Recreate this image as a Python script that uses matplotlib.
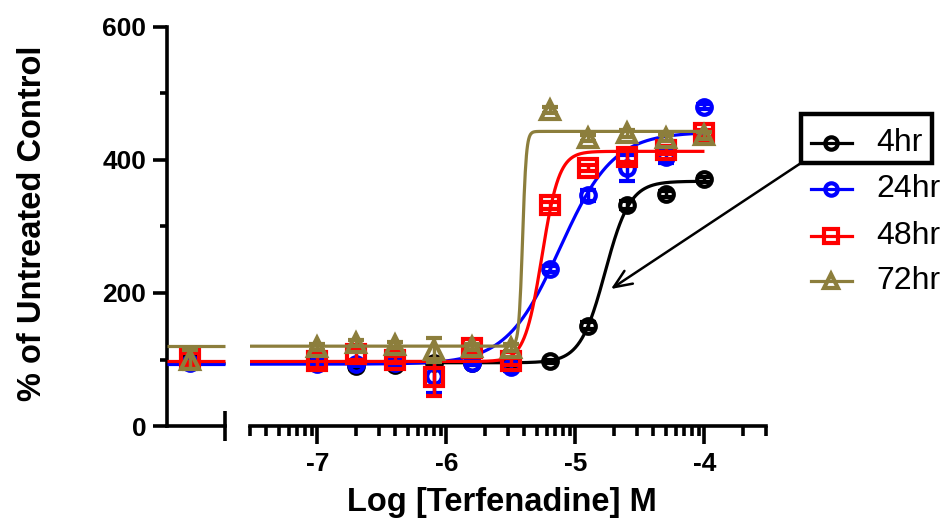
import numpy as np
import matplotlib
matplotlib.use("Agg")
import matplotlib.pyplot as plt
from matplotlib.lines import Line2D
from matplotlib.patches import Rectangle

plt.rcParams["font.family"] = ["Liberation Sans", "DejaVu Sans"]

# ---- data ---------------------------------------------------------------
log_conc = [-7.0, -6.7, -6.4, -6.1, -5.8, -5.5, -5.2, -4.9, -4.6, -4.3, -4.0]
labels = ["4hr", "24hr", "48hr", "72hr"]

hr4 = [95, 90, 92, 95, 95, 93, 97, 151, 332, 349, 371]
hr4_err = [3, 5, 3, 3, 3, 3, 3, 5, 6, 5, 4]
hr24 = [93, 93, 95, 75, 95, 88, 236, 347, 388, 405, 480]
hr24_err = [3, 3, 3, 25, 3, 5, 5, 8, 20, 10, 4]
hr48 = [97, 108, 100, 73, 117, 97, 332, 388, 405, 415, 440]
hr48_err = [10, 8, 6, 28, 5, 5, 5, 5, 8, 6, 5]
hr72 = [119, 125, 122, 114, 119, 118, 475, 433, 440, 433, 437]
hr72_err = [5, 5, 5, 18, 5, 5, 5, 5, 5, 5, 5]

# untreated control (plotted on the separate left segment)
ctrl = [100, 95, 102, 100]
ctrl_err = [2, 2, 8, 14]

# four-parameter logistic fits: bottom, top, logEC50, Hill slope
fit_bottom = [95, 93, 97, 120]
fit_top = [368, 442, 413, 443]
fit_logec50 = [-4.77, -5.12, -5.26, -5.41]
fit_hill = [4.5, 2.1, 6.5, 30.0]

colors = ["#000000", "#0000ff", "#ff0000", "#8c7e3c"]
markers = ["o", "o", "s", "^"]
msizes = [10.5, 10.5, 12.5, 12.5]

means = [hr4, hr24, hr48, hr72]
errs = [hr4_err, hr24_err, hr48_err, hr72_err]

XMIN, XMAX = np.log10(3e-8), np.log10(3e-4)


def logistic(x, b, t, ec, h):
    return b + (t - b) / (1.0 + 10 ** ((ec - x) * h))


# ---- layout ---------------------------------------------------------------
W, H = 948, 520
fig = plt.figure(figsize=(W / 100, H / 100), dpi=100)
y0, y1 = 426, 27
ax1 = fig.add_axes([167 / W, (H - y0) / H, 58 / W, (y0 - y1) / H])
ax2 = fig.add_axes([250 / W, (H - y0) / H, 516 / W, (y0 - y1) / H], sharey=ax1)

spine_w = 2.6
for ax in (ax1, ax2):
    for s in ax.spines.values():
        s.set_linewidth(spine_w)
    ax.spines["top"].set_visible(False)
    ax.spines["right"].set_visible(False)
    ax.set_facecolor("none")

ax2.spines["left"].set_visible(False)

ax1.set_ylim(0, 600)
ax1.set_xlim(0, 1)
ax2.set_xlim(XMIN, XMAX)

# y axis ticks
ax1.set_yticks([0, 200, 400, 600])
ax1.set_yticks([100, 300, 500], minor=True)
ax1.tick_params(axis="y", which="major", length=10, width=spine_w, pad=5,
                labelsize=19)
ax1.tick_params(axis="y", which="minor", length=5, width=spine_w)
for lab in ax1.get_yticklabels():
    lab.set_fontweight("bold")

# left segment bottom axis: single end tick
ax1.set_xticks([1.0])
ax1.set_xticklabels([])
ax1.tick_params(axis="x", which="major", direction="inout", length=22,
                width=spine_w)

# main x axis with log minor ticks
ax2.tick_params(axis="y", which="both", left=False, right=False,
                labelleft=False)
ax2.set_xticks([-7, -6, -5, -4])
ax2.set_xticklabels(["-7", "-6", "-5", "-4"])
minor = [d + np.log10(k) for d in range(-8, -3) for k in range(2, 10)]
minor = [m for m in minor if XMIN - 1e-6 <= m <= XMAX + 1e-6]
ax2.set_xticks(minor, minor=True)
ax2.tick_params(axis="x", which="major", length=13, width=spine_w, pad=6,
                labelsize=19)
ax2.tick_params(axis="x", which="minor", length=7, width=spine_w)
for lab in ax2.get_xticklabels():
    lab.set_fontweight("bold")

# ---- curves and points ----------------------------------------------------
xs = np.linspace(XMIN, -4.0, 800)
for i in range(4):
    c = colors[i]
    ys = logistic(xs, fit_bottom[i], fit_top[i], fit_logec50[i], fit_hill[i])
    z = 2 + i
    ax2.plot(xs, ys, color=c, lw=2.3, zorder=z, solid_capstyle="butt")
    ax2.errorbar(log_conc, means[i], yerr=errs[i], fmt=markers[i], color=c,
                 ms=msizes[i], mfc="none", mec=c, mew=3.0, ecolor=c,
                 elinewidth=2.5, capsize=6, capthick=2.5, zorder=z)
    # baseline continued over the control segment
    ax1.plot([0, 1], [fit_bottom[i]] * 2, color=c, lw=2.3, zorder=z,
             solid_capstyle="butt", clip_on=False)
    ax1.errorbar([0.4], [ctrl[i]], yerr=[ctrl_err[i]], fmt=markers[i],
                 color=c, ms=msizes[i], mfc="none", mec=c, mew=3.0,
                 ecolor=c, elinewidth=2.5, capsize=6, capthick=2.5, zorder=z)

# ---- labels ---------------------------------------------------------------
fig.text(33 / W, (H - 223) / H, "% of Untreated Control", rotation=90,
         ha="center", va="center", fontsize=23.5, fontweight="bold")
fig.text(502 / W, (H - 503) / H, "Log [Terfenadine] M", ha="center",
         va="center", fontsize=23.5, fontweight="bold")

# ---- legend ---------------------------------------------------------------
rows_y = [143, 189, 236, 281]
for i in range(4):
    yy = (H - rows_y[i]) / H
    fig.add_artist(Line2D([811 / W, 852 / W], [yy, yy], color=colors[i],
                          lw=2.3, transform=fig.transFigure))
    fig.add_artist(Line2D([831 / W], [yy], marker=markers[i], ms=msizes[i] * 0.85,
                          mfc="none", mec=colors[i], mew=3.0, ls="none",
                          transform=fig.transFigure))
    fig.text(876 / W, yy, labels[i], ha="left", va="center", fontsize=23)

fig.add_artist(Rectangle((801 / W, (H - 163) / H), 131 / W, 49 / H,
                         fill=False, lw=3.2, ec="black",
                         transform=fig.transFigure))

# arrow from the 4hr legend entry to its curve
ax2.annotate("", xy=(-4.725, 206), xycoords="data",
             xytext=(801, H - 163), textcoords="figure pixels",
             arrowprops=dict(arrowstyle="->,head_length=1.3,head_width=0.55",
                             color="black", lw=1.8, shrinkA=0, shrinkB=0),
             annotation_clip=False)

fig.savefig("out.png", dpi=100)
